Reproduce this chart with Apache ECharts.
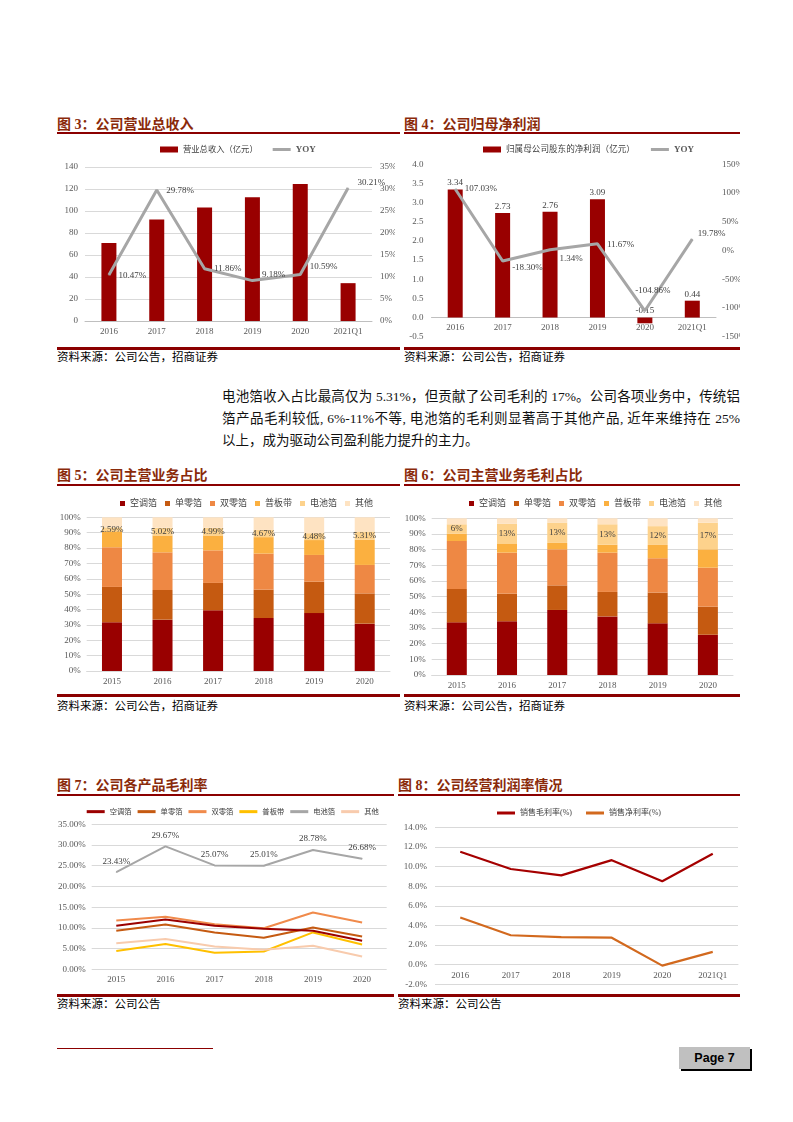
<!DOCTYPE html>
<html>
<head>
<meta charset="utf-8">
<script src="https://cdn.jsdelivr.net/npm/echarts@6/dist/echarts.min.js"></script>
<style>
  html,body{margin:0;padding:0;background:#fff;}
  #page{position:relative;width:793px;height:1122px;background:#fff;overflow:hidden;}
  .abs{position:absolute;}
  .title{position:absolute;font-family:"Liberation Serif","Noto Sans CJK SC",serif;font-weight:bold;font-size:14px;line-height:16px;color:#8A2A0A;white-space:nowrap;}
  .rule{position:absolute;background:#8B0000;}
  .src{position:absolute;font-family:"Noto Sans CJK SC",sans-serif;font-size:11.5px;line-height:14px;color:#000;white-space:nowrap;}
  .para{position:absolute;left:222px;width:518px;font-family:"Liberation Serif","Noto Sans CJK SC",serif;font-size:13.5px;line-height:20px;color:#111;white-space:nowrap;text-align:justify;text-align-last:justify;}
  .chart{position:absolute;}
</style>
</head>
<body>
<div id="page">
  <div class="title" style="left:57px;top:117px;">图 3：公司营业总收入</div>
  <div class="title" style="left:404px;top:117px;">图 4：公司归母净利润</div>
  <div class="rule" style="left:57px;top:132px;width:343px;height:1.5px;"></div>
  <div class="rule" style="left:404px;top:132px;width:336px;height:1.5px;"></div>
  <div class="rule" style="left:57px;top:347px;width:343px;height:2.5px;"></div>
  <div class="rule" style="left:404px;top:347px;width:336px;height:2.5px;"></div>
  <div class="src" style="left:57px;top:349px;">资料来源：公司公告，招商证券</div>
  <div class="src" style="left:404px;top:349px;">资料来源：公司公告，招商证券</div>

  <div class="para" style="top:387px;">电池箔收入占比最高仅为 5.31%，但贡献了公司毛利的 17%。公司各项业务中，传统铝</div>
  <div class="para" style="top:409px;">箔产品毛利较低, 6%-11%不等, 电池箔的毛利则显著高于其他产品, 近年来维持在 25%</div>
  <div class="para" style="top:431px;text-align:left;text-align-last:left;">以上，成为驱动公司盈利能力提升的主力。</div>

  <div class="title" style="left:57px;top:468px;">图 5：公司主营业务占比</div>
  <div class="title" style="left:404px;top:468px;">图 6：公司主营业务毛利占比</div>
  <div class="rule" style="left:57px;top:484px;width:343px;height:1.5px;"></div>
  <div class="rule" style="left:404px;top:484px;width:336px;height:1.5px;"></div>
  <div class="rule" style="left:57px;top:694px;width:343px;height:2.5px;"></div>
  <div class="rule" style="left:404px;top:694px;width:336px;height:2.5px;"></div>
  <div class="src" style="left:57px;top:698px;">资料来源：公司公告，招商证券</div>
  <div class="src" style="left:404px;top:698px;">资料来源：公司公告，招商证券</div>

  <div class="title" style="left:57px;top:778px;">图 7：公司各产品毛利率</div>
  <div class="title" style="left:398px;top:778px;">图 8：公司经营利润率情况</div>
  <div class="rule" style="left:57px;top:794px;width:337px;height:1.5px;"></div>
  <div class="rule" style="left:398px;top:794px;width:342px;height:1.5px;"></div>
  <div class="rule" style="left:57px;top:994px;width:337px;height:2.5px;"></div>
  <div class="rule" style="left:398px;top:994px;width:342px;height:2.5px;"></div>
  <div class="src" style="left:57px;top:996px;">资料来源：公司公告</div>
  <div class="src" style="left:398px;top:996px;">资料来源：公司公告</div>

  <div class="rule" style="left:57px;top:1048px;width:156px;height:1px;"></div>
  <div class="abs" style="left:679px;top:1047px;width:71px;height:22px;background:#C0C0C0;box-shadow:2px 2px 0 #000;font-family:'Liberation Sans',Arial,sans-serif;font-weight:bold;font-size:12.5px;line-height:22px;text-align:center;color:#000;">Page 7</div>
</div>
<script>
// ---------- data ----------
const years3 = ['2016', '2017', '2018', '2019', '2020', '2021Q1'];
const revenue = [71.0, 92.2, 103.1, 112.6, 124.6, 34.4];
const revenueYoy = [10.47, 29.78, 11.86, 9.18, 10.59, 30.21];

const netProfit = [3.34, 2.73, 2.76, 3.09, -0.15, 0.44];
const netProfitYoy = [107.03, -18.30, 1.34, 11.67, -104.86, 19.78];

const years5 = ['2015', '2016', '2017', '2018', '2019', '2020'];
const productNames = ['空调箔', '单零箔', '双零箔', '普板带', '电池箔', '其他'];

const revShareAC = [31.7, 33.4, 39.5, 34.5, 37.7, 30.8];
const revShareSingleZero = [23.0, 19.3, 17.8, 18.4, 20.4, 19.7];
const revShareDoubleZero = [25.8, 24.5, 21.2, 23.5, 17.4, 18.5];
const revSharePlate = [10.4, 11.0, 9.7, 10.7, 9.7, 16.5];
const revShareBattery = [2.59, 5.02, 4.99, 4.67, 4.48, 5.31];
const revShareOther = [6.5, 6.8, 6.8, 8.2, 10.3, 9.2];

const gpShareAC = [33.6, 34.3, 41.5, 37.4, 33.0, 25.7];
const gpShareSingleZero = [21.3, 17.6, 15.7, 15.6, 19.6, 17.9];
const gpShareDoubleZero = [30.6, 26.2, 23.0, 25.1, 21.9, 24.9];
const gpSharePlate = [4.7, 5.5, 4.1, 5.1, 8.5, 11.7];
const gpShareBattery = [6, 13, 13, 13, 12, 17];
const gpShareOther = [3.8, 3.4, 2.7, 3.8, 5.0, 2.8];

const marginAC = [10.5, 12.0, 10.5, 9.8, 9.3, 6.9];
const marginSingleZero = [9.3, 10.8, 8.9, 7.6, 10.1, 7.9];
const marginDoubleZero = [11.8, 12.7, 10.9, 9.9, 13.7, 11.3];
const marginPlate = [4.4, 6.1, 4.0, 4.3, 8.9, 6.0];
const marginBattery = [23.43, 29.67, 25.07, 25.01, 28.78, 26.68];
const marginOther = [6.3, 7.3, 5.5, 4.7, 5.7, 3.1];

const years8 = ['2016', '2017', '2018', '2019', '2020', '2021Q1'];
const grossMargin = [11.5, 9.75, 9.1, 10.65, 8.5, 11.3];
const netMargin = [4.8, 3.0, 2.8, 2.75, -0.1, 1.3];

// ---------- style ----------
const FF = '"Liberation Serif", "Noto Sans CJK SC", serif';
const AXC = '#595959';
const GRID = '#D9D9D9';
const LBL = '#404040';
const stackColors = ['#990000', '#C55A11', '#EE8844', '#FBB040', '#FDD28C', '#FEE3C2'];
const lineIcon = 'path://M0,0h6v1h-6z';

function mk(left, top, w, h, option) {
  const d = document.createElement('div');
  d.className = 'chart';
  d.style.left = left + 'px'; d.style.top = top + 'px';
  d.style.width = w + 'px'; d.style.height = h + 'px';
  document.getElementById('page').appendChild(d);
  const c = echarts.init(d, null, { renderer: 'canvas' });
  option.animation = false;
  option.grid = Object.assign({ outerBoundsMode: 'none', containLabel: false }, option.grid);
  c.setOption(option);
}
function catAxis(data, extra) {
  return Object.assign({
    type: 'category', data: data,
    axisLine: { lineStyle: { color: '#BFBFBF' } },
    axisTick: { show: false },
    axisLabel: { color: AXC, fontSize: 9, fontFamily: FF, margin: 6 }
  }, extra || {});
}
function valAxis(min, max, interval, fmt, split, margin) {
  return {
    type: 'value', min: min, max: max, interval: interval,
    axisLine: { show: false }, axisTick: { show: false },
    axisLabel: { color: AXC, fontSize: 9, fontFamily: FF, formatter: fmt, margin: margin },
    splitLine: { show: split, lineStyle: { color: GRID, width: 1 } }
  };
}
// pixel distance of the zero value above the bottom of the grid
function zeroLift(min, max, plotHeight) { return (0 - min) / (max - min) * plotHeight; }
const pct0 = v => v + '%';

// ---------- Chart 3 ----------
const yoy3Offsets = [[0, 1], [0, 1], [0, 0], [0, -6], [0, -8], [0, -5]];
mk(57, 135, 338, 210, {
  legend: {
    left: 98, top: 5, itemWidth: 18, itemHeight: 6, itemGap: 15,
    textStyle: { fontSize: 8.3, color: LBL, fontFamily: FF },
    data: [{ name: '营业总收入（亿元）', icon: 'rect' },
           { name: 'YOY', icon: lineIcon, textStyle: { fontWeight: 'bold', fontSize: 9, color: '#595959' } }]
  },
  grid: { left: 28, right: 23, top: 32, bottom: 24 },
  xAxis: catAxis(years3),
  yAxis: [valAxis(0, 140, 20, null, true, 7), valAxis(0, 35, 5, pct0, false, 8)],
  series: [
    { type: 'bar', name: '营业总收入（亿元）', data: revenue, barWidth: 15, itemStyle: { color: '#990000' } },
    { type: 'line', name: 'YOY', yAxisIndex: 1, symbol: 'circle', symbolSize: 1,
      data: revenueYoy.map((v, i) => ({ value: v, label: { offset: yoy3Offsets[i] } })),
      lineStyle: { color: '#A6A6A6', width: 3 }, itemStyle: { color: '#A6A6A6' },
      label: { show: true, position: 'right', distance: 9, color: LBL, fontSize: 9, fontFamily: FF,
               formatter: p => p.value.toFixed(2) + '%' } }
  ]
});

// ---------- Chart 4 ----------
const yoy4Pos = ['right', 'right', 'right', 'right', 'top', 'right'];
const yoy4Offsets = [[0, 0], [0, 7], [0, 9], [0, 1], [8, -6], [-4, -5]];
const g4 = { left: 28.5, right: 24, top: 29.3, bottom: 8.3 };
mk(403, 135, 337, 210, {
  legend: {
    left: 75, top: 5, itemWidth: 18, itemHeight: 6, itemGap: 16,
    textStyle: { fontSize: 8.6, color: LBL, fontFamily: FF },
    data: [{ name: '归属母公司股东的净利润（亿元）', icon: 'rect' },
           { name: 'YOY', icon: lineIcon, textStyle: { fontWeight: 'bold', fontSize: 9, color: '#595959' } }]
  },
  grid: g4,
  xAxis: catAxis(years3, {
    offset: -zeroLift(-0.5, 4, 210 - g4.top - g4.bottom),
    axisLine: { show: true, onZero: false, lineStyle: { color: '#BFBFBF' } },
    axisLabel: { color: AXC, fontSize: 9, fontFamily: FF, margin: 6 } }),
  yAxis: [valAxis(-0.5, 4, 0.5, v => v.toFixed(1), false, 8), valAxis(-150, 150, 50, pct0, false, 6)],
  series: [
    { type: 'bar', name: '归属母公司股东的净利润（亿元）', data: netProfit, barWidth: 15, itemStyle: { color: '#990000' },
      label: { show: true, position: 'top', distance: 2, color: LBL, fontSize: 9, fontFamily: FF,
               formatter: p => p.value.toFixed(2) } },
    { type: 'line', name: 'YOY', yAxisIndex: 1, symbol: 'circle', symbolSize: 1,
      data: netProfitYoy.map((v, i) => ({ value: v, label: { position: yoy4Pos[i], offset: yoy4Offsets[i] } })),
      lineStyle: { color: '#A6A6A6', width: 3 }, itemStyle: { color: '#A6A6A6' },
      label: { show: true, distance: 9, color: LBL, fontSize: 9, fontFamily: FF,
               formatter: p => p.value.toFixed(2) + '%' } }
  ]
});

// ---------- Chart 5 & 6 (stacked) ----------
function stackOption(seriesData, legendLeft, grid, batteryFmt) {
  return {
    legend: {
      left: legendLeft, top: 6, itemWidth: 5, itemHeight: 5, itemGap: 8, icon: 'rect',
      textStyle: { fontSize: 9, color: LBL, fontFamily: FF },
      data: productNames
    },
    grid: grid,
    xAxis: catAxis(years5, { axisLine: { lineStyle: { color: GRID } }, axisLabel: { color: AXC, fontSize: 9, fontFamily: FF, margin: 6 } }),
    yAxis: valAxis(0, 100, 10, pct0, true, 6),
    series: seriesData.map((d, i) => ({
      type: 'bar', name: productNames[i], stack: 'all', data: d, barWidth: 20,
      itemStyle: { color: stackColors[i] },
      label: i === 4 ? { show: true, position: 'inside', color: LBL, fontSize: 9, fontFamily: FF, formatter: batteryFmt } : { show: false }
    }))
  };
}
mk(57, 488, 338, 205, stackOption(
  [revShareAC, revShareSingleZero, revShareDoubleZero, revSharePlate, revShareBattery, revShareOther],
  58, { left: 29.7, right: 5, top: 29.3, bottom: 22 }, p => p.value.toFixed(2) + '%'));
mk(403, 488, 337, 205, stackOption(
  [gpShareAC, gpShareSingleZero, gpShareDoubleZero, gpSharePlate, gpShareBattery, gpShareOther],
  61, { left: 28.7, right: 7, top: 30.3, bottom: 18 }, p => p.value + '%'));

// ---------- Chart 7 ----------
const lineColors7 = ['#9B0000', '#C55A11', '#F08A4B', '#FFC000', '#A6A6A6', '#F8CBAD'];
const lineData7 = [marginAC, marginSingleZero, marginDoubleZero, marginPlate, marginBattery, marginOther];
mk(57, 797, 338, 196, {
  legend: {
    left: 24.7, top: 6, width: 330, itemWidth: 18, itemHeight: 3, itemGap: 6, icon: 'rect',
    textStyle: { fontSize: 7.3, color: LBL, fontFamily: FF },
    data: productNames
  },
  grid: { left: 34.7, right: 8.3, top: 27.3, bottom: 23.7 },
  xAxis: catAxis(years5, { axisLine: { show: false }, axisLabel: { color: AXC, fontSize: 9, fontFamily: FF, margin: 6 } }),
  yAxis: valAxis(0, 35, 5, v => v.toFixed(2) + '%', true, 6),
  series: lineData7.map((d, i) => ({
    type: 'line', name: productNames[i], data: d,
    symbol: i === 4 ? 'circle' : 'none', symbolSize: 1,
    lineStyle: { color: lineColors7[i], width: 2 }, itemStyle: { color: lineColors7[i] },
    label: i === 4 ? { show: true, position: 'top', distance: 6, color: LBL, fontSize: 9, fontFamily: FF,
                       formatter: p => p.value.toFixed(2) + '%' } : { show: false },
    z: i === 0 ? 5 : 2
  }))
});

// ---------- Chart 8 ----------
const g8 = { left: 32, right: 2, top: 30.3, bottom: 8.7 };
mk(403, 797, 337, 196, {
  legend: {
    left: 89, top: 7, itemWidth: 18, itemHeight: 3, itemGap: 14, icon: 'rect',
    textStyle: { fontSize: 8, color: LBL, fontFamily: FF },
    data: ['销售毛利率(%)', '销售净利率(%)']
  },
  grid: g8,
  xAxis: catAxis(years8, {
    offset: -zeroLift(-2, 14, 196 - g8.top - g8.bottom),
    axisLine: { show: true, onZero: false, lineStyle: { color: GRID } },
    axisLabel: { color: AXC, fontSize: 9, fontFamily: FF, margin: 6 } }),
  yAxis: valAxis(-2, 14, 2, v => v.toFixed(1) + '%', true, 8),
  series: [
    { type: 'line', name: '销售毛利率(%)', data: grossMargin, symbol: 'none',
      lineStyle: { color: '#A50000', width: 2.2 }, itemStyle: { color: '#A50000' } },
    { type: 'line', name: '销售净利率(%)', data: netMargin, symbol: 'none',
      lineStyle: { color: '#D2691E', width: 2.2 }, itemStyle: { color: '#D2691E' } }
  ]
});
</script>
</body>
</html>
